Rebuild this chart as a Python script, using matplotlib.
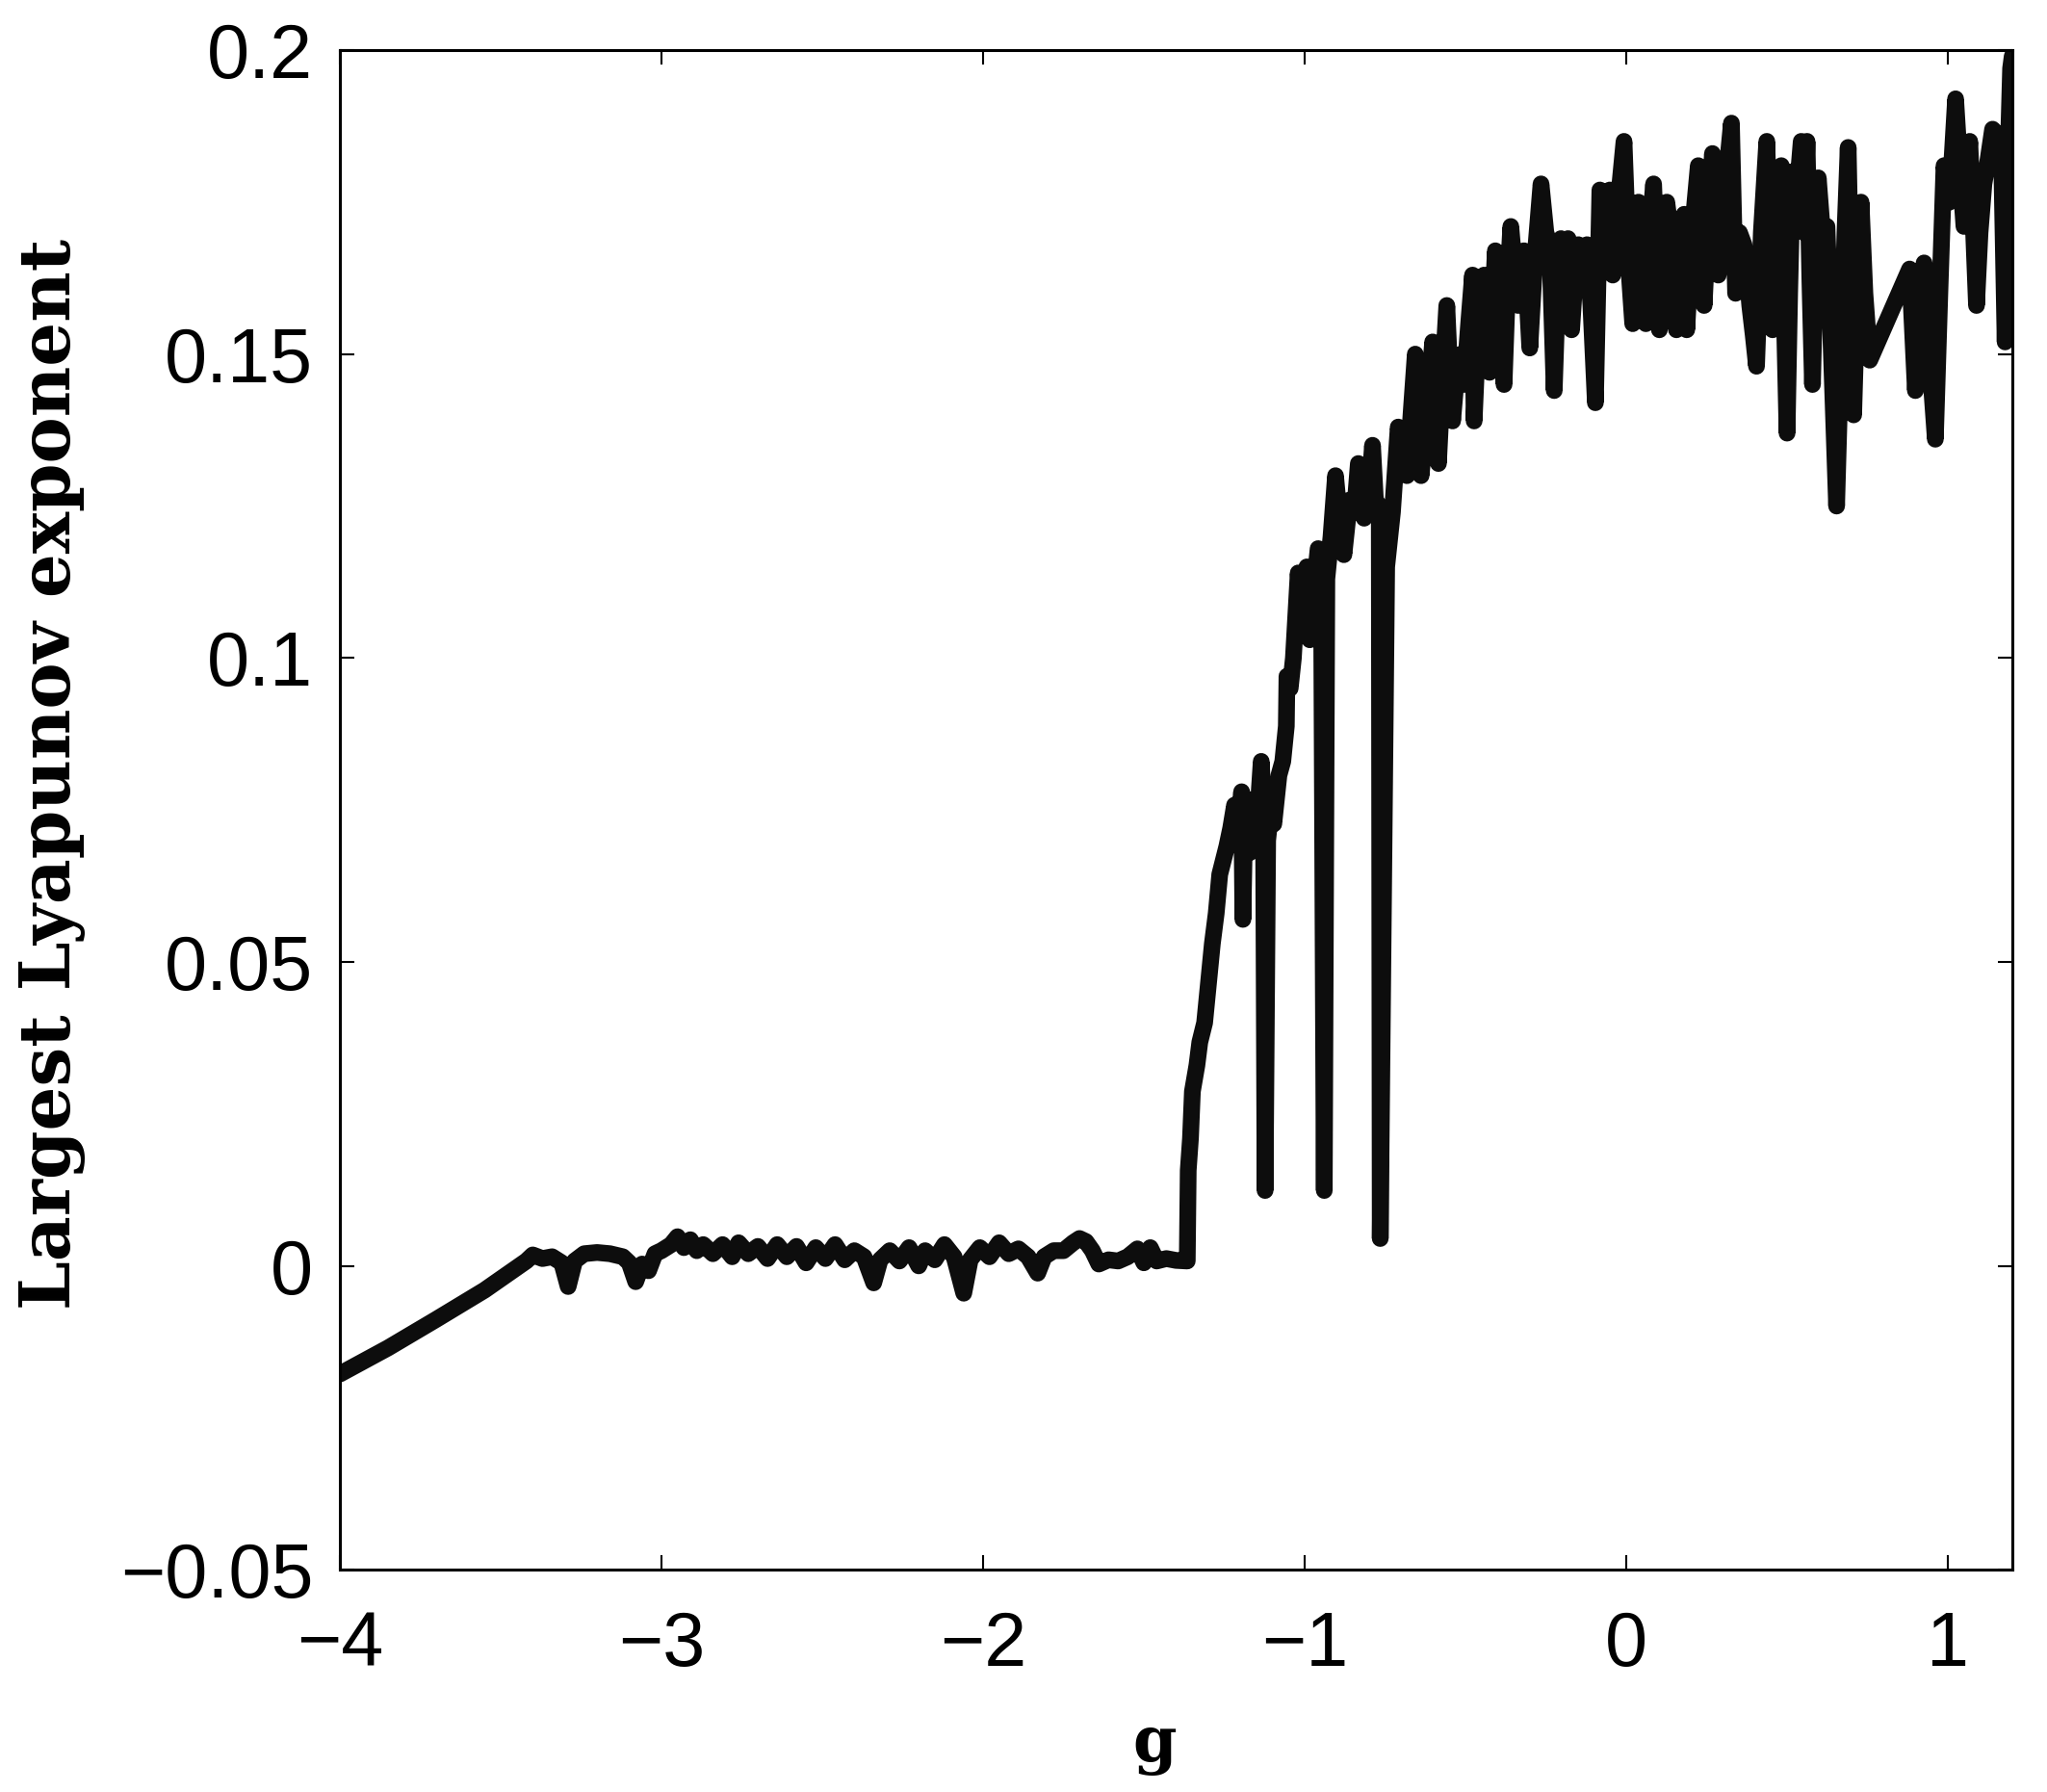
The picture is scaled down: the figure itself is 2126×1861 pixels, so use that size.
import matplotlib
matplotlib.use("Agg")
import matplotlib.pyplot as plt
from matplotlib.ticker import FuncFormatter

# values
g_vals = [
    -4.00, -3.85, -3.70, -3.55, -3.42,
    -3.40, -3.37, -3.34, -3.31, -3.29, -3.27, -3.24, -3.20, -3.16, -3.12, -3.10, -3.08, -3.06, -3.04,
    -3.02, -3.00, -2.97, -2.95, -2.93, -2.91, -2.89, -2.87, -2.84, -2.81, -2.78, -2.76, -2.73, -2.70,
    -2.67, -2.64, -2.61, -2.58, -2.55, -2.52, -2.49, -2.46, -2.43, -2.40, -2.37, -2.34, -2.32, -2.29,
    -2.26, -2.23, -2.20, -2.18, -2.15, -2.12, -2.09, -2.06, -2.04, -2.01, -1.98, -1.95, -1.92, -1.89,
    -1.86, -1.83, -1.81, -1.78, -1.75, -1.72, -1.70, -1.68, -1.66, -1.64, -1.61, -1.58, -1.55, -1.52,
    -1.50, -1.48, -1.46, -1.43, -1.40, -1.37,
    -1.365, -1.362, -1.355, -1.349, -1.335, -1.326, -1.311, -1.300, -1.287, -1.275, -1.264, -1.242,
    -1.230, -1.218, -1.205, -1.196, -1.192, -1.185, -1.170, -1.157, -1.145, -1.135, -1.128, -1.123,
    -1.115, -1.105, -1.096, -1.080, -1.068, -1.057, -1.055, -1.045, -1.035, -1.020, -1.008, -0.993,
    -0.984, -0.970, -0.958, -0.948, -0.939, -0.931, -0.918, -0.904, -0.890, -0.878, -0.860, -0.845,
    -0.833, -0.815, -0.800, -0.789, -0.780, -0.768, -0.765, -0.755, -0.745, -0.727,
    -0.709, -0.695, -0.682, -0.668, -0.656, -0.646, -0.638, -0.620, -0.602, -0.593, -0.584, -0.570,
    -0.558, -0.548, -0.540, -0.527, -0.513, -0.504, -0.490, -0.478, -0.473, -0.460, -0.442, -0.434,
    -0.425, -0.415, -0.407, -0.395, -0.380, -0.370, -0.359, -0.346, -0.336, -0.318, -0.309, -0.300,
    -0.285, -0.265, -0.250, -0.238, -0.224, -0.214, -0.203, -0.190, -0.181, -0.170, -0.160, -0.149,
    -0.135, -0.122, -0.110, -0.096, -0.082, -0.065, -0.051, -0.042, -0.025, -0.007, 0.007, 0.020,
    0.030, 0.038, 0.050, 0.061, 0.072, 0.085, 0.095, 0.103, 0.115, 0.126, 0.138, 0.149, 0.156, 0.168,
    0.180, 0.188, 0.205, 0.224, 0.235, 0.242, 0.255, 0.268, 0.278, 0.286, 0.305, 0.327, 0.334, 0.340,
    0.352, 0.366, 0.376, 0.384, 0.395, 0.405, 0.420, 0.437, 0.446, 0.455, 0.470, 0.482, 0.490, 0.500,
    0.508, 0.517, 0.530, 0.544, 0.553, 0.562, 0.571, 0.579, 0.588, 0.597, 0.610, 0.624, 0.638, 0.654,
    0.662, 0.668, 0.680, 0.690, 0.698, 0.707, 0.718, 0.730, 0.742, 0.757, 0.881, 0.890, 0.899, 0.912,
    0.926, 0.942, 0.961, 0.975, 0.988, 1.005, 1.024, 1.038, 1.050, 1.060, 1.068, 1.080, 1.089, 1.100,
    1.112, 1.125, 1.139, 1.157, 1.168, 1.178, 1.186, 1.195, 1.200,
]
lyap_vals = [
    -0.0178, -0.0135, -0.0088, -0.0040, 0.0008,
    0.0018, 0.0012, 0.0015, 0.0005, -0.0034, 0.0008, 0.0020, 0.0022, 0.0020, 0.0015, 0.0005, -0.0026, 0.0003, -0.0008,
    0.0020, 0.0025, 0.0035, 0.0048, 0.0030, 0.0043, 0.0025, 0.0035, 0.0020, 0.0035, 0.0015, 0.0038, 0.0020, 0.0032,
    0.0012, 0.0035, 0.0015, 0.0032, 0.0005, 0.0030, 0.0012, 0.0035, 0.0010, 0.0025, 0.0015, -0.0028, 0.0010, 0.0025,
    0.0008, 0.0030, 0.0000, 0.0025, 0.0010, 0.0035, 0.0015, -0.0045, 0.0010, 0.0030, 0.0015, 0.0038, 0.0020, 0.0028,
    0.0015, -0.0012, 0.0015, 0.0025, 0.0025, 0.0038, 0.0045, 0.0040, 0.0025, 0.0003, 0.0010, 0.0008, 0.0015, 0.0028,
    0.0005, 0.0030, 0.0008, 0.0012, 0.0009, 0.0008,
    0.0008, 0.0157, 0.0210, 0.0287, 0.0330, 0.0368, 0.0400, 0.0460, 0.0530, 0.0580, 0.0644, 0.0690,
    0.0720, 0.0758, 0.0720, 0.0780, 0.0570, 0.0770, 0.0680, 0.0710, 0.0750, 0.0830, 0.0760, 0.0124,
    0.0700, 0.0750, 0.0727, 0.0807, 0.0830, 0.0888, 0.0970, 0.0950, 0.1000, 0.1140, 0.1050, 0.1150,
    0.1030, 0.1120, 0.1180, 0.1160, 0.0124, 0.1130, 0.1200, 0.1300, 0.1220, 0.1170, 0.1260, 0.1240,
    0.1320, 0.1230, 0.1270, 0.1350, 0.1260, 0.1250, 0.0045, 0.0600, 0.1150, 0.1240,
    0.138, 0.134, 0.130, 0.141, 0.150, 0.138, 0.130, 0.140, 0.152, 0.141, 0.132, 0.147,
    0.158, 0.146, 0.139, 0.147, 0.150, 0.145, 0.155, 0.163, 0.139, 0.155, 0.163, 0.156,
    0.147, 0.158, 0.167, 0.158, 0.145, 0.160, 0.171, 0.163, 0.158, 0.167, 0.160, 0.151,
    0.165, 0.178, 0.170, 0.168, 0.144, 0.160, 0.169, 0.163, 0.169, 0.154, 0.162, 0.168,
    0.163, 0.168, 0.158, 0.142, 0.177, 0.170, 0.177, 0.163, 0.175, 0.185, 0.165, 0.155,
    0.168, 0.175, 0.165, 0.155, 0.170, 0.178, 0.165, 0.154, 0.168, 0.175, 0.170, 0.166, 0.154, 0.165,
    0.173, 0.154, 0.170, 0.181, 0.168, 0.158, 0.172, 0.183, 0.172, 0.163, 0.176, 0.188, 0.172, 0.160,
    0.170, 0.168, 0.163, 0.158, 0.153, 0.148, 0.170, 0.185, 0.168, 0.154, 0.170, 0.181, 0.160, 0.137,
    0.160, 0.180, 0.176, 0.185, 0.170, 0.185, 0.162, 0.145, 0.165, 0.179, 0.170, 0.171, 0.150, 0.125,
    0.140, 0.148, 0.170, 0.184, 0.162, 0.140, 0.160, 0.175, 0.160, 0.149, 0.164, 0.154, 0.144, 0.158,
    0.165, 0.150, 0.136, 0.160, 0.181, 0.175, 0.192, 0.180, 0.171, 0.180, 0.185, 0.170, 0.158, 0.170,
    0.178, 0.182, 0.187, 0.186, 0.180, 0.152, 0.180, 0.197, 0.199,
]

x_ticks = [-4, -3, -2, -1, 0, 1]
y_ticks = [-0.05, 0, 0.05, 0.1, 0.15, 0.2]

fig = plt.figure(figsize=(21.26, 18.61), dpi=100)
ax = fig.add_axes([0.166, 0.124, 0.817, 0.848])

ax.plot(g_vals, lyap_vals, color='#0d0d0d', linewidth=12.5,
        solid_capstyle='round', solid_joinstyle='round')

ax.set_xlim(-4, 1.2)
ax.set_ylim(-0.05, 0.2)
ax.set_xticks(x_ticks)
ax.set_yticks(y_ticks)
ax.yaxis.set_major_formatter(FuncFormatter(lambda v, p: '%g' % v if v >= 0 else '\u2212%g' % -v))

ax.tick_params(direction='in', length=11, width=1.5, top=True, right=True, labelsize=57)
ax.tick_params(axis='y', pad=20)
ax.tick_params(axis='x', pad=30)
for lab in ax.get_xticklabels() + ax.get_yticklabels():
    lab.set_family('Liberation Sans')
for sp in ax.spines.values():
    sp.set_linewidth(2.2)

fig.text(54 / 2126, 1 - 804 / 1861, 'Largest Lyapunov exponent', rotation=90,
         ha='center', va='center', family='DejaVu Serif', fontweight='bold', fontsize=52)
fig.text(1199 / 2126, 1 - 1829 / 1861, 'g', ha='center', va='baseline',
         family='DejaVu Serif', fontweight='bold', fontsize=47)

fig.savefig('out.png', dpi=100)
